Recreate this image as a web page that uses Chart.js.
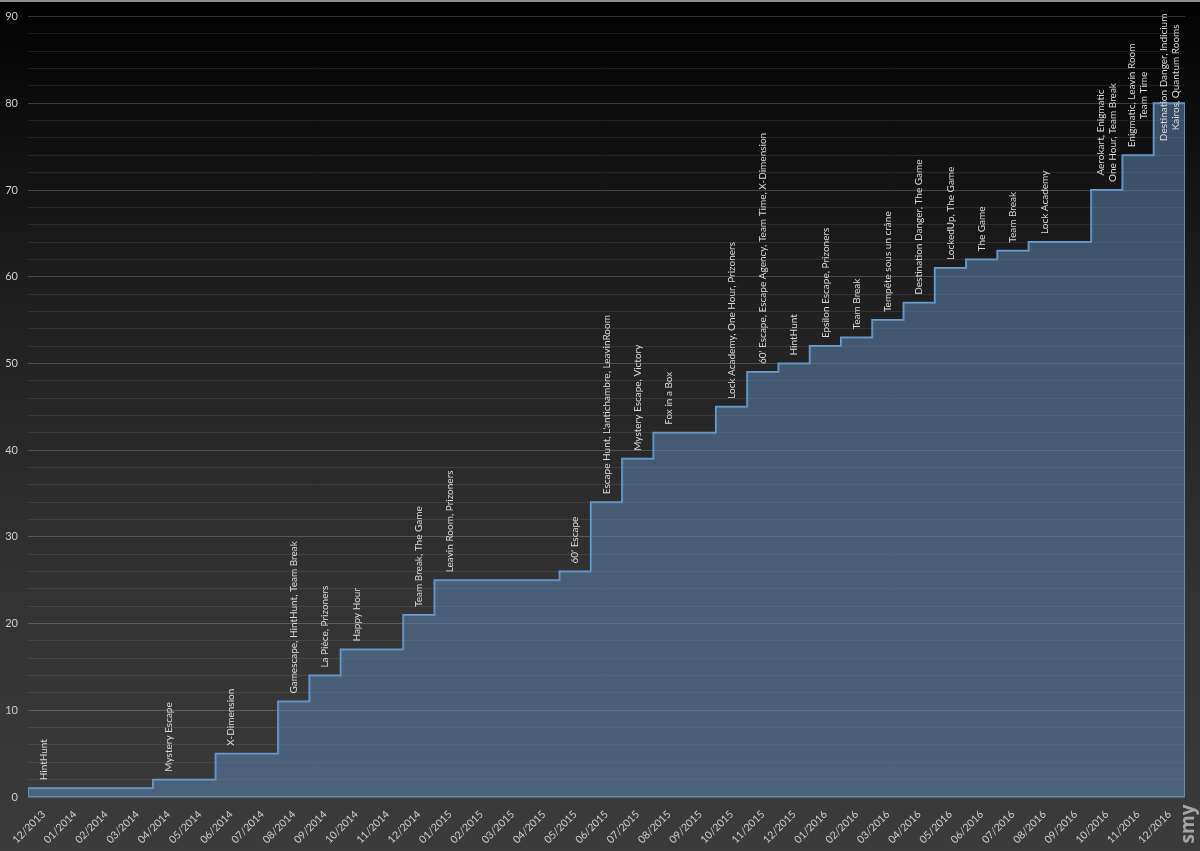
<!DOCTYPE html>
<html>
<head>
<meta charset="utf-8">
<script src="https://cdn.jsdelivr.net/npm/chart.js@4"></script>
<style>
  html, body { margin: 0; padding: 0; background: #000; }
  #wrap { width: 1200px; height: 851px; position: relative; }
</style>
</head>
<body>
<div id="wrap"><canvas id="chart"></canvas></div>
<script>
// months on the x axis
const months = [
    '12/2013',
    '01/2014', '02/2014', '03/2014', '04/2014', '05/2014', '06/2014',
    '07/2014', '08/2014', '09/2014', '10/2014', '11/2014', '12/2014',
    '01/2015', '02/2015', '03/2015', '04/2015', '05/2015', '06/2015',
    '07/2015', '08/2015', '09/2015', '10/2015', '11/2015', '12/2015',
    '01/2016', '02/2016', '03/2016', '04/2016', '05/2016', '06/2016',
    '07/2016', '08/2016', '09/2016', '10/2016', '11/2016', '12/2016'
];

// cumulative number of rooms at each month
const counts = [
    1,
    1, 1, 1, 2, 2, 5,
    5, 11, 14, 17, 17, 21,
    25, 25, 25, 25, 26, 34,
    39, 42, 42, 45, 49, 50,
    52, 53, 55, 57, 61, 62,
    63, 64, 64, 70, 74, 80
];

// openings in each month (array = several lines)
const openings = [
    'HintHunt',
    '', '', '', 'Mystery Escape', '', 'X-Dimension',
    '', 'Gamescape, HintHunt, Team Break', 'La Pièce, Prizoners', 'Happy Hour', '', 'Team Break, The Game',
    'Leavin Room, Prizoners', '', '', '', "60' Escape", "Escape Hunt, L'antichambre, LeavinRoom",
    'Mystery Escape, Victory', 'Fox in a Box', '', 'Lock Academy, One Hour, Prizoners',
    "60' Escape, Escape Agency, Team Time, X-Dimension", 'HintHunt',
    'Epsilon Escape, Prizoners', 'Team Break', 'Tempête sous un crâne', 'Destination Danger, The Game',
    'LockedUp, The Game', 'The Game',
    'Team Break', 'Lock Academy', '',
    ['Aerokart, Enigmatic', 'One Hour, Team Break'],
    ['Enigmatic, Leavin Room', 'Team Time'],
    ['Destination Danger, Indicium', 'Kairos, Quantum Rooms']
];

const yMax = 90;
const LABEL_FONT = '10px Lato';

// step area: value i holds from i to i+1
const areaPoints = counts.map((v, i) => ({ x: i, y: v }));
areaPoints.push({ x: counts.length, y: counts[counts.length - 1] });

// same steps, closed round the bottom and right side
const outlinePoints = areaPoints.concat([
    { x: counts.length, y: 0 },
    { x: 0, y: 0 },
    { x: 0, y: counts[0] }
]);

const backgroundPlugin = {
    id: 'background',
    beforeDraw(chart) {
        const ctx = chart.ctx;
        const g = ctx.createLinearGradient(0, 0, 0, chart.height);
        g.addColorStop(0, '#020202');
        g.addColorStop(0.35, '#1f1f1f');
        g.addColorStop(0.7, '#333333');
        g.addColorStop(1, '#3b3b3b');
        ctx.save();
        ctx.fillStyle = g;
        ctx.fillRect(0, 0, chart.width, chart.height);
        ctx.fillStyle = '#8a8a8a';
        ctx.fillRect(0, 0, chart.width, 2);
        ctx.restore();
    }
};

const openingsPlugin = {
    id: 'openings',
    afterDatasetsDraw(chart) {
        const ctx = chart.ctx;
        const xs = chart.scales.x, ys = chart.scales.y;
        const top = chart.chartArea.top - 3;
        ctx.save();
        ctx.font = LABEL_FONT;
        ctx.fillStyle = '#dcdcdc';
        ctx.textBaseline = 'middle';
        openings.forEach((txt, i) => {
            if (!txt) return;
            const lines = Array.isArray(txt) ? txt : [txt];
            const w = Math.max(...lines.map(l => ctx.measureText(l).width));
            const x = xs.getPixelForValue(i + 0.5);
            let y = ys.getPixelForValue(counts[i]) - 8;
            if (y - w < top) y = top + w;
            const lh = 12;
            ctx.save();
            ctx.translate(x, y);
            ctx.rotate(-Math.PI / 2);
            if (lines.length === 1) {
                ctx.textAlign = 'left';
                ctx.fillText(lines[0], 0, 0);
            } else {
                ctx.textAlign = 'center';
                lines.forEach((l, k) => {
                    ctx.fillText(l, w / 2, (k - (lines.length - 1) / 2) * lh);
                });
            }
            ctx.restore();
        });
        ctx.restore();
    },
    afterDraw(chart) {
        const ctx = chart.ctx;
        ctx.save();
        ctx.translate(chart.width - 11, chart.height - 27);
        ctx.rotate(-Math.PI / 2);
        ctx.font = 'bold 19px "Open Sans"';
        ctx.fillStyle = '#a5a5a5';
        ctx.textAlign = 'center';
        ctx.textBaseline = 'middle';
        ctx.fillText('smy', 0, 0);
        ctx.restore();
    }
};

new Chart(document.getElementById('chart'), {
    type: 'line',
    data: {
        datasets: [
            {
                data: areaPoints,
                stepped: true,
                fill: 'origin',
                backgroundColor: 'rgba(88,128,168,0.58)',
                borderWidth: 0,
                pointRadius: 0
            },
            {
                data: outlinePoints,
                stepped: true,
                fill: false,
                borderColor: '#6a9dd2',
                borderWidth: 2,
                pointRadius: 0
            }
        ]
    },
    options: {
        responsive: true,
        maintainAspectRatio: false,
        animation: false,
        events: [],
        layout: { padding: { top: 15, right: 15, left: 0, bottom: 0 } },
        plugins: { legend: { display: false }, tooltip: { enabled: false } },
        scales: {
            x: {
                type: 'linear',
                min: 0,
                max: months.length,
                afterBuildTicks(scale) {
                    scale.ticks = months.map((m, i) => ({ value: i + 0.5 }));
                },
                afterFit(scale) { scale.height = 54; },
                grid: { display: false },
                border: { display: false },
                ticks: {
                    autoSkip: false,
                    maxRotation: 45,
                    minRotation: 45,
                    padding: 3,
                    color: '#cfcfcf',
                    font: { family: 'Lato', size: 10.5 },
                    callback: (v, i) => months[i]
                }
            },
            y: {
                min: 0,
                max: yMax,
                afterFit(scale) { scale.width = 28; },
                grid: {
                    drawTicks: false,
                    color: c => c.tick.value % 10 === 0 ? 'rgba(255,255,255,0.2)' : 'rgba(255,255,255,0.09)',
                    lineWidth: 1
                },
                border: { display: false },
                ticks: {
                    stepSize: 2,
                    padding: 10,
                    color: '#cfcfcf',
                    font: { family: 'Lato', size: 11 },
                    callback: v => v % 10 === 0 ? v : ''
                }
            }
        }
    },
    plugins: [backgroundPlugin, openingsPlugin]
});
</script>
</body>
</html>
